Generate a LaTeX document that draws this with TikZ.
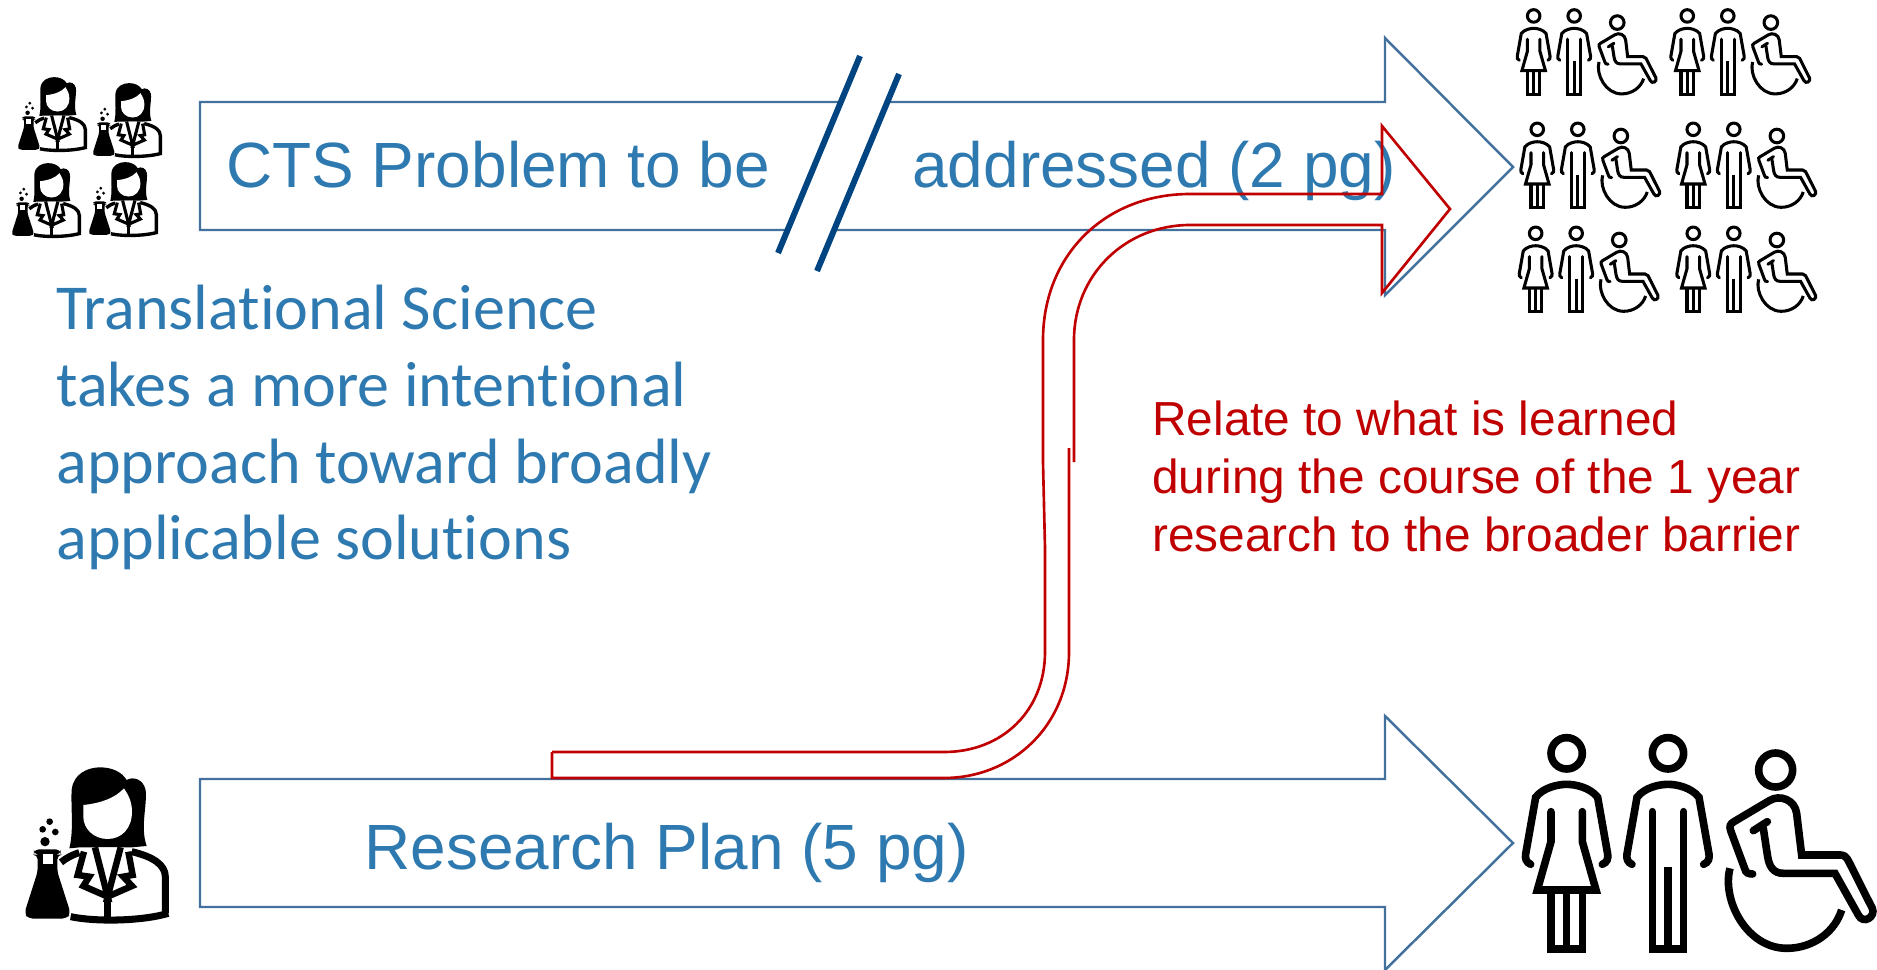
\documentclass[tikz,border=0pt]{standalone}
\usepackage{fontspec}
\setmainfont{Liberation Sans}
\newfontfamily\notefont[Ligatures=NoCommon]{Carlito}
\usetikzlibrary{arrows.meta}

\definecolor{arrowblue}{HTML}{41719C}
\definecolor{textblue}{HTML}{2E7AB0}
\definecolor{slashblue}{HTML}{004481}
\definecolor{darkred}{HTML}{C00000}

\tikzset{
  bigarrow/.style={draw=arrowblue,line width=1.4pt,line join=miter},
  redarrow/.style={draw=darkred,line width=1.5pt,line join=miter},
  slashline/.style={draw=slashblue,line width=3.4pt},
  arrowtext/.style={anchor=base west,inner sep=0pt,text=textblue,font=\fontsize{36.4}{43}\selectfont},
  notetext/.style={anchor=base west,inner sep=0pt,text=textblue,font=\notefont\fontsize{36.45}{44}\selectfont},
  relatetext/.style={anchor=base west,inner sep=0pt,text=darkred,font=\fontsize{27.2}{33}\selectfont},
  iconline/.style={draw=black,line width=#1*13pt,line cap=round,line join=miter},
}

% #1,#2 corner, #3 scale
\newcommand{\peoplegroup}[3]{
\begin{scope}[shift={(#1,#2)},scale=#3]
\begin{scope}[iconline=#3]
% woman
\draw (260,160) circle (47);
\draw (152,493) .. controls (138,487) and (135,475) .. (137,462) -- (167,292) .. controls (190,262) and (235,253) .. (260,253) .. controls (285,253) and (330,262) .. (353,292) -- (383,462) .. controls (385,475) and (382,487) .. (367,493);
\draw (213,335) -- (213,425) -- (172,570) -- (348,570) -- (307,425) -- (307,335);
\draw[line cap=butt] (213,570) -- (213,747) -- (307,747) -- (307,570);
\draw[line cap=butt] (260,570) -- (260,747);
% man
\draw (564,160) circle (47);
\draw (456,493) .. controls (442,487) and (439,475) .. (441,462) -- (471,292) .. controls (494,262) and (539,253) .. (564,253) .. controls (589,253) and (634,262) .. (657,292) -- (687,462) .. controls (689,475) and (686,487) .. (671,493);
\draw (517,335) -- (517,747) -- (611,747) -- (611,335);
\draw[line cap=butt] (564,500) -- (564,747);
% wheelchair
\draw (887,210) circle (51);
\draw (818,522) .. controls (805,522) and (797,518) .. (795,508) -- (752,392) .. controls (748,378) and (750,372) .. (762,365) -- (868,302) .. controls (900,282) and (945,300) .. (950,340) -- (965,465) -- (1080,465) .. controls (1092,465) and (1098,470) .. (1103,478) -- (1177,625) .. controls (1188,650) and (1150,675) .. (1135,645) -- (1065,520) -- (910,520) .. controls (880,520) and (868,500) .. (863,470) -- (850,385);
\draw (820,392) -- (862,365);
\draw[line cap=butt] (750,505) .. controls (725,600) and (800,745) .. (920,745) .. controls (1000,745) and (1065,695) .. (1085,630);
\end{scope}
\end{scope}
}

\newcommand{\labworker}[3]{
\begin{scope}[shift={(#1,#2)},scale=#3]
% hair and face
\fill[black] (208,325) .. controls (222,270) and (212,200) .. (215,150) .. controls (220,100) and (265,82) .. (300,82) .. controls (335,82) and (365,95) .. (380,120) .. controls (400,108) and (430,118) .. (437,150) .. controls (442,200) and (420,260) .. (440,318) -- (395,322) -- (240,322) -- cycle;
\fill[white] (250,195) .. controls (300,190) and (345,175) .. (372,145) .. controls (385,165) and (396,185) .. (396,215) .. controls (396,265) and (365,297) .. (323,297) .. controls (280,297) and (250,265) .. (250,230) -- cycle;
\fill[white] (285,322) -- (362,322) -- (323,460) -- cycle;
% coat
\draw[line width=#3*20pt*0.6] (183,367) .. controls (198,355) and (215,345) .. (238,338);
\draw[line width=#3*20pt*0.6] (395,335) .. controls (460,350) and (496,375) .. (496,410) -- (496,520);
\draw[line width=#3*20pt*0.6] (212,530) .. controls (280,545) and (420,545) .. (505,520);
\draw[line width=#3*20pt*0.55] (323,470) -- (323,535);
\draw[line width=#3*20pt*0.55,line join=miter] (285,322) -- (323,470) -- (250,438) -- (268,410) -- (233,405) -- (252,335);
\draw[line width=#3*20pt*0.55,line join=miter] (362,322) -- (323,470) -- (396,438) -- (370,410) -- (398,405) -- (385,335);
% flask
\fill[black,rounded corners=#3*8pt] (102,328) -- (182,328) -- (182,344) -- (172,344) -- (172,395) -- (212,520) -- (200,536) -- (85,536) -- (73,520) -- (113,395) -- (113,344) -- (102,344) -- cycle;
\fill[white] (128,342) rectangle (158,372);
\fill[black] (149,245) circle (10);
\fill[black] (128,268) circle (10);
\fill[black] (166,276) circle (10);
\fill[black] (135,305) circle (14);
\end{scope}
}

\begin{document}
\begin{tikzpicture}[x=0.02cm,y=-0.02cm]
\useasboundingbox (0,0) rectangle (1877,970);

\draw[bigarrow] (200,102) -- (1385,102) -- (1385,38) -- (1513,167) -- (1385,295) -- (1385,230) -- (200,230) -- cycle;
\draw[bigarrow] (200,779) -- (1385,779) -- (1385,716) -- (1513,843) -- (1385,970) -- (1385,907) -- (200,907) -- cycle;

\coordinate (slashatop) at (860,56);
\coordinate (slashabot) at (778,253);
\coordinate (slashbtop) at (899,74);
\coordinate (slashbbot) at (817,271);
\fill[white] (slashatop) -- (slashabot) -- (slashbbot) -- (slashbtop) -- cycle;
\draw[slashline] (slashatop) -- (slashabot);
\draw[slashline] (slashbtop) -- (slashbbot);

\node[arrowtext] (ctsproblem) at (226,187) {CTS Problem to be};
\node[arrowtext] (addressed) at (912,187) {addressed (2 pg)};
\node[arrowtext] (researchplan) at (364,869) {Research Plan (5 pg)};

\node[notetext] (noteone) at (56,329) {Translational Science};
\node[notetext] (notetwo) at (56,406) {takes a more intentional};
\node[notetext] (notethree) at (56,483) {approach toward broadly};
\node[notetext] (notefour) at (56,559) {applicable solutions};

\node[relatetext] (relateone) at (1152,435) {Relate to what is learned};
\node[relatetext] (relatetwo) at (1152,493) {during the course of the 1 year};
\node[relatetext] (relatethree) at (1152,551) {research to the broader barrier};

% bent arrow
\draw[redarrow] (552,752) -- (944,752) .. controls (1003,752) and (1045,710) .. (1045,652) -- (1045,548) -- (1043,462) -- (1043,340) .. controls (1043,255) and (1105,194) .. (1190,194) -- (1382,194) -- (1382,126) -- (1450,209) -- (1382,293) -- (1382,225) -- (1190,225) .. controls (1125,225) and (1074,275) .. (1074,340) -- (1074,462);
\draw[redarrow] (1069,448) -- (1069,652) .. controls (1069,725) and (1013,778) .. (944,778) -- (552,778) -- (552,752);

\labworker{6}{64}{0.16}
\labworker{81}{70}{0.16}
\labworker{0}{150}{0.16}
\labworker{77}{149}{0.16}
\labworker{0}{740}{0.3333}

\peoplegroup{1499}{-5.4}{0.1333}
\peoplegroup{1652.6}{-5.4}{0.1333}
\peoplegroup{1502.6}{108}{0.1333}
\peoplegroup{1658.6}{108}{0.1333}
\peoplegroup{1501}{212}{0.1333}
\peoplegroup{1658.6}{212}{0.1333}
\peoplegroup{1480}{700}{0.3333}

\end{tikzpicture}
\end{document}
